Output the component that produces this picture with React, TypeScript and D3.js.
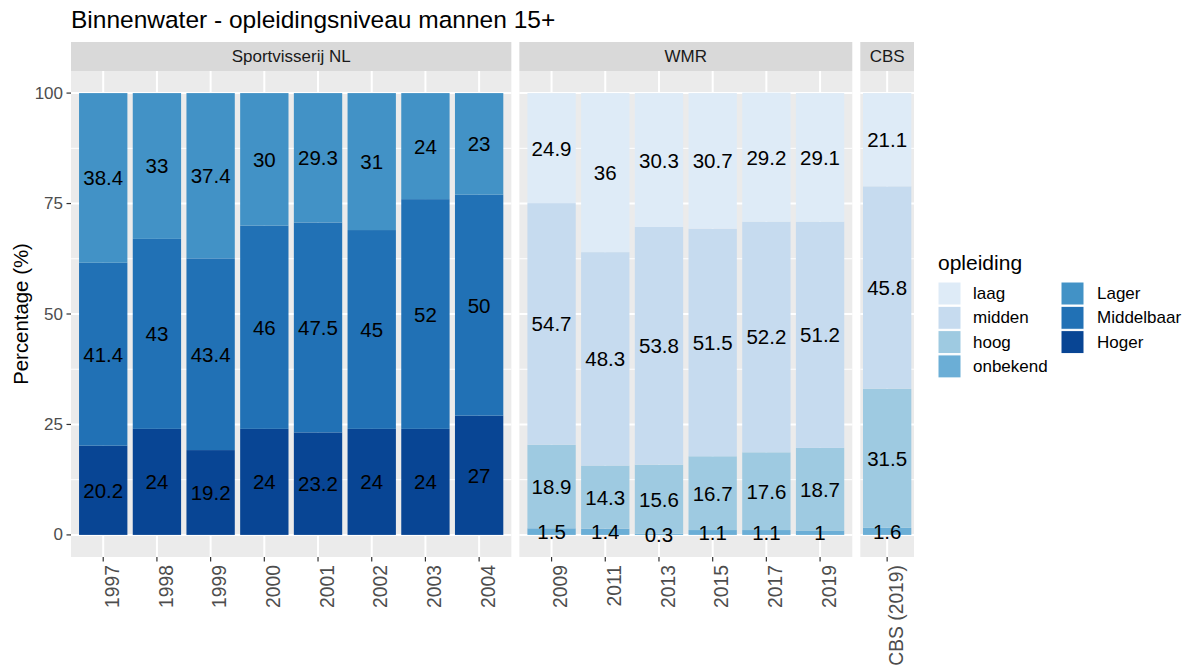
import React from "react";
import * as d3 from "d3";

// Sportvisserij NL
const yearsSV = ["1997", "1998", "1999", "2000", "2001", "2002", "2003", "2004"];
const hoger = [20.2, 24, 19.2, 24, 23.2, 24, 24, 27];
const middelbaar = [41.4, 43, 43.4, 46, 47.5, 45, 52, 50];
const lager = [38.4, 33, 37.4, 30, 29.3, 31, 24, 23];

// WMR
const yearsWMR = ["2009", "2011", "2013", "2015", "2017", "2019"];
const onbekendWMR = [1.5, 1.4, 0.3, 1.1, 1.1, 1];
const hoogWMR = [18.9, 14.3, 15.6, 16.7, 17.6, 18.7];
const middenWMR = [54.7, 48.3, 53.8, 51.5, 52.2, 51.2];
const laagWMR = [24.9, 36, 30.3, 30.7, 29.2, 29.1];

// CBS
const catsCBS = ["CBS (2019)"];
const onbekendCBS = [1.6];
const hoogCBS = [31.5];
const middenCBS = [45.8];
const laagCBS = [21.1];

const levels = ["laag", "midden", "hoog", "onbekend", "Lager", "Middelbaar", "Hoger"];
const colors = ["#DEEBF7", "#C6DBEF", "#9ECAE1", "#6BAED6", "#4292C6", "#2171B5", "#084594"];
const yTicks = [0, 25, 50, 75, 100];
const yMinor = [12.5, 37.5, 62.5, 87.5];

const W = 1189;
const H = 670;
const left = 71;
const top = 71;
const bottom = 557;
const stripTop = 42;
const gap = 8;
const step = (914 - left - 2 * gap) / (8.2 + 6.2 + 1);

const color = d3.scaleOrdinal<string, string>().domain(levels).range(colors);
const y = d3.scaleLinear().domain([-5, 105]).range([bottom, top]);

type Panel = {
  name: string
  cats: string[]
  keys: string[]
  values: Record<string, number[]>
  units: number
  outer: number
}

const panels: Panel[] = [
  {
    name: "Sportvisserij NL",
    cats: yearsSV,
    keys: ["Hoger", "Middelbaar", "Lager"],
    values: { Hoger: hoger, Middelbaar: middelbaar, Lager: lager },
    units: 8.2,
    outer: 0.15,
  },
  {
    name: "WMR",
    cats: yearsWMR,
    keys: ["onbekend", "hoog", "midden", "laag"],
    values: { onbekend: onbekendWMR, hoog: hoogWMR, midden: middenWMR, laag: laagWMR },
    units: 6.2,
    outer: 0.15,
  },
  {
    name: "CBS",
    cats: catsCBS,
    keys: ["onbekend", "hoog", "midden", "laag"],
    values: { onbekend: onbekendCBS, hoog: hoogCBS, midden: middenCBS, laag: laagCBS },
    units: 1,
    outer: 0,
  },
];

const font = "'Liberation Sans', Arial, sans-serif";

function PanelView({ p, x0 }: { p: Panel; x0: number }) {
  const width = p.units * step;
  const x = d3.scaleBand<string>()
    .domain(p.cats)
    .range([x0, x0 + width])
    .paddingInner(0.1)
    .paddingOuter(p.outer);

  const rows = p.cats.map((c, i) => {
    const r: any = { cat: c };
    p.keys.forEach(k => (r[k] = p.values[k][i]));
    return r;
  });
  const series = d3.stack<any>().keys(p.keys)(rows);
  const cx = (c: string) => (x(c) as number) + x.bandwidth() / 2;

  return (
    <g>
      <rect x={x0} y={stripTop} width={width} height={top - stripTop} fill="#D9D9D9" />
      <text x={x0 + width / 2} y={(stripTop + top) / 2} textAnchor="middle" dominantBaseline="central"
        fontSize={17} fill="#1A1A1A">{p.name}</text>
      <rect x={x0} y={top} width={width} height={bottom - top} fill="#EBEBEB" />
      {yMinor.map(t => (
        <line key={"mn" + t} x1={x0} x2={x0 + width} y1={y(t)} y2={y(t)} stroke="#fff" strokeWidth={1} />
      ))}
      {yTicks.map(t => (
        <line key={"mj" + t} x1={x0} x2={x0 + width} y1={y(t)} y2={y(t)} stroke="#fff" strokeWidth={2} />
      ))}
      {p.cats.map(c => (
        <line key={"v" + c} x1={cx(c)} x2={cx(c)} y1={top} y2={bottom} stroke="#fff" strokeWidth={2} />
      ))}
      {series.map(s => s.map((d, i) => (
        <rect key={s.key + i} x={x(p.cats[i])} width={x.bandwidth()}
          y={y(d[1])} height={y(d[0]) - y(d[1])} fill={color(s.key)} />
      )))}
      {series.map(s => s.map((d, i) => (
        <text key={"l" + s.key + i} x={cx(p.cats[i])} y={y((d[0] + d[1]) / 2)}
          textAnchor="middle" dominantBaseline="central" fontSize={20.5} fill="#000">
          {String(p.values[s.key][i])}
        </text>
      )))}
      {p.cats.map(c => (
        <g key={"t" + c}>
          <line x1={cx(c)} x2={cx(c)} y1={bottom} y2={bottom + 4.5} stroke="#333" strokeWidth={1.2} />
          <text transform={`translate(${cx(c) + 2},${bottom + 8}) rotate(-90)`} textAnchor="end"
            dominantBaseline="hanging" fontSize={19.3} fill="#4D4D4D">{c}</text>
        </g>
      ))}
    </g>
  );
}

export default function App() {
  let xPos = left;
  const starts = panels.map(p => {
    const s = xPos;
    xPos += p.units * step + gap;
    return s;
  });

  const col1 = levels.slice(0, 4);
  const col2 = levels.slice(4);
  const keySize = 23;
  const keyStep = 24.3;
  const keyTop = 282;

  return (
    <svg width={W} height={H} style={{ position: "absolute", left: 0, top: 0, fontFamily: font }}>
      <rect width={W} height={H} fill="#fff" />
      <text x={71} y={28} fontSize={24.5} fill="#000">Binnenwater - opleidingsniveau mannen 15+</text>

      {panels.map((p, i) => <PanelView key={p.name} p={p} x0={starts[i]} />)}

      {yTicks.map(t => (
        <g key={"yt" + t}>
          <line x1={66.5} x2={left} y1={y(t)} y2={y(t)} stroke="#333" strokeWidth={1.2} />
          <text x={63} y={y(t)} textAnchor="end" dominantBaseline="central" fontSize={17} fill="#4D4D4D">{t}</text>
        </g>
      ))}
      <text transform={`translate(28,${(top + bottom) / 2}) rotate(-90)`} textAnchor="middle"
        fontSize={20.4} fill="#000">Percentage (%)</text>

      <text x={938} y={270} fontSize={21} fill="#000">opleiding</text>
      {[col1, col2].map((col, ci) => col.map((lv, ri) => {
        const kx = ci === 0 ? 938 : 1061;
        const ky = keyTop + ri * keyStep;
        return (
          <g key={lv}>
            <rect x={kx} y={ky} width={keySize} height={keySize} fill={color(lv)} stroke="#fff" strokeWidth={1} />
            <text x={ci === 0 ? 973 : 1097} y={ky + keySize / 2} dominantBaseline="central"
              fontSize={17} fill="#000">{lv}</text>
          </g>
        );
      }))}
    </svg>
  );
}
